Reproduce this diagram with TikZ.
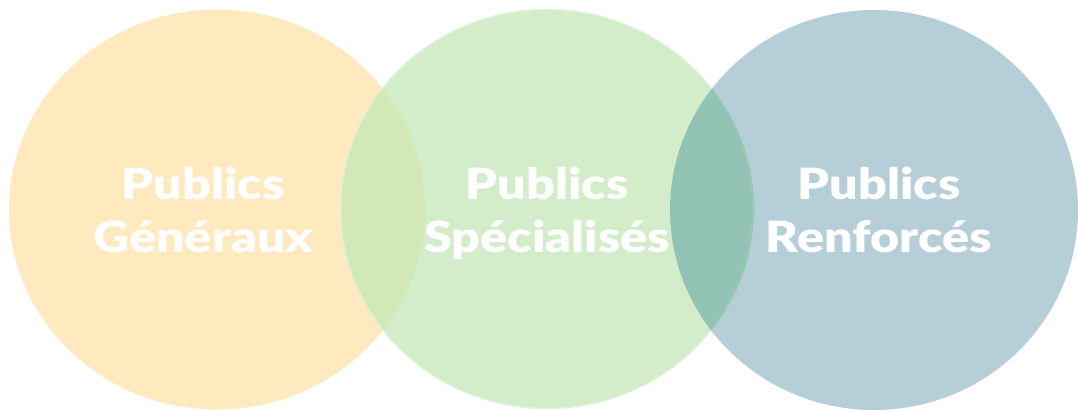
\documentclass[tikz,border=0pt]{standalone}
\usepackage{fontspec}
\setmainfont{Lato}[BoldFont={Lato Black}]
\definecolor{corange}{HTML}{FFE9BF}
\definecolor{cgreen}{HTML}{D3EDCB}
\definecolor{cgreenedge}{HTML}{E0F3DB}
\definecolor{cblue}{HTML}{B5CED7}
\definecolor{covlg}{HTML}{D2E8B5}
\definecolor{covgb}{HTML}{93C3B4}
\tikzset{
  lbl/.style={text=white, font=\fontsize{43}{53}\selectfont\bfseries, align=center, inner sep=0pt, xscale=1.17, transform shape}
}
\begin{document}
\begin{tikzpicture}[x=1pt,y=-1pt]
\useasboundingbox (0,0) rectangle (1078,410);
\def\circL{(217,209.5) ellipse [x radius=208pt, y radius=200pt]}
\def\circM{(547,209) ellipse [x radius=207pt, y radius=200pt]}
\def\circR{(874,210) ellipse [x radius=204pt, y radius=200pt]}
\fill[corange] \circL;
\fill[cblue] \circR;
\fill[cgreen] \circM;
\begin{scope}
  \clip \circL;
  \fill[covlg] \circM;
\end{scope}
\begin{scope}
  \clip \circR;
  \fill[covgb] \circM;
\end{scope}
\draw[cgreenedge, line width=1.2pt] (547,209) ellipse [x radius=206.4pt, y radius=199.4pt];
\begin{scope}
  \clip \circR;
  \draw[covgb, line width=1.4pt] (547,209) ellipse [x radius=206.4pt, y radius=199.4pt];
\end{scope}
\node[lbl] (gen) at (203,213) {Publics\\Généraux\vphantom{p}};
\node[lbl] (spe) at (547,213) {Publics\\Spécialisés\vphantom{p}};
\node[lbl] (ren) at (879,213) {Publics\\Renforcés\vphantom{p}};
\end{tikzpicture}
\end{document}
